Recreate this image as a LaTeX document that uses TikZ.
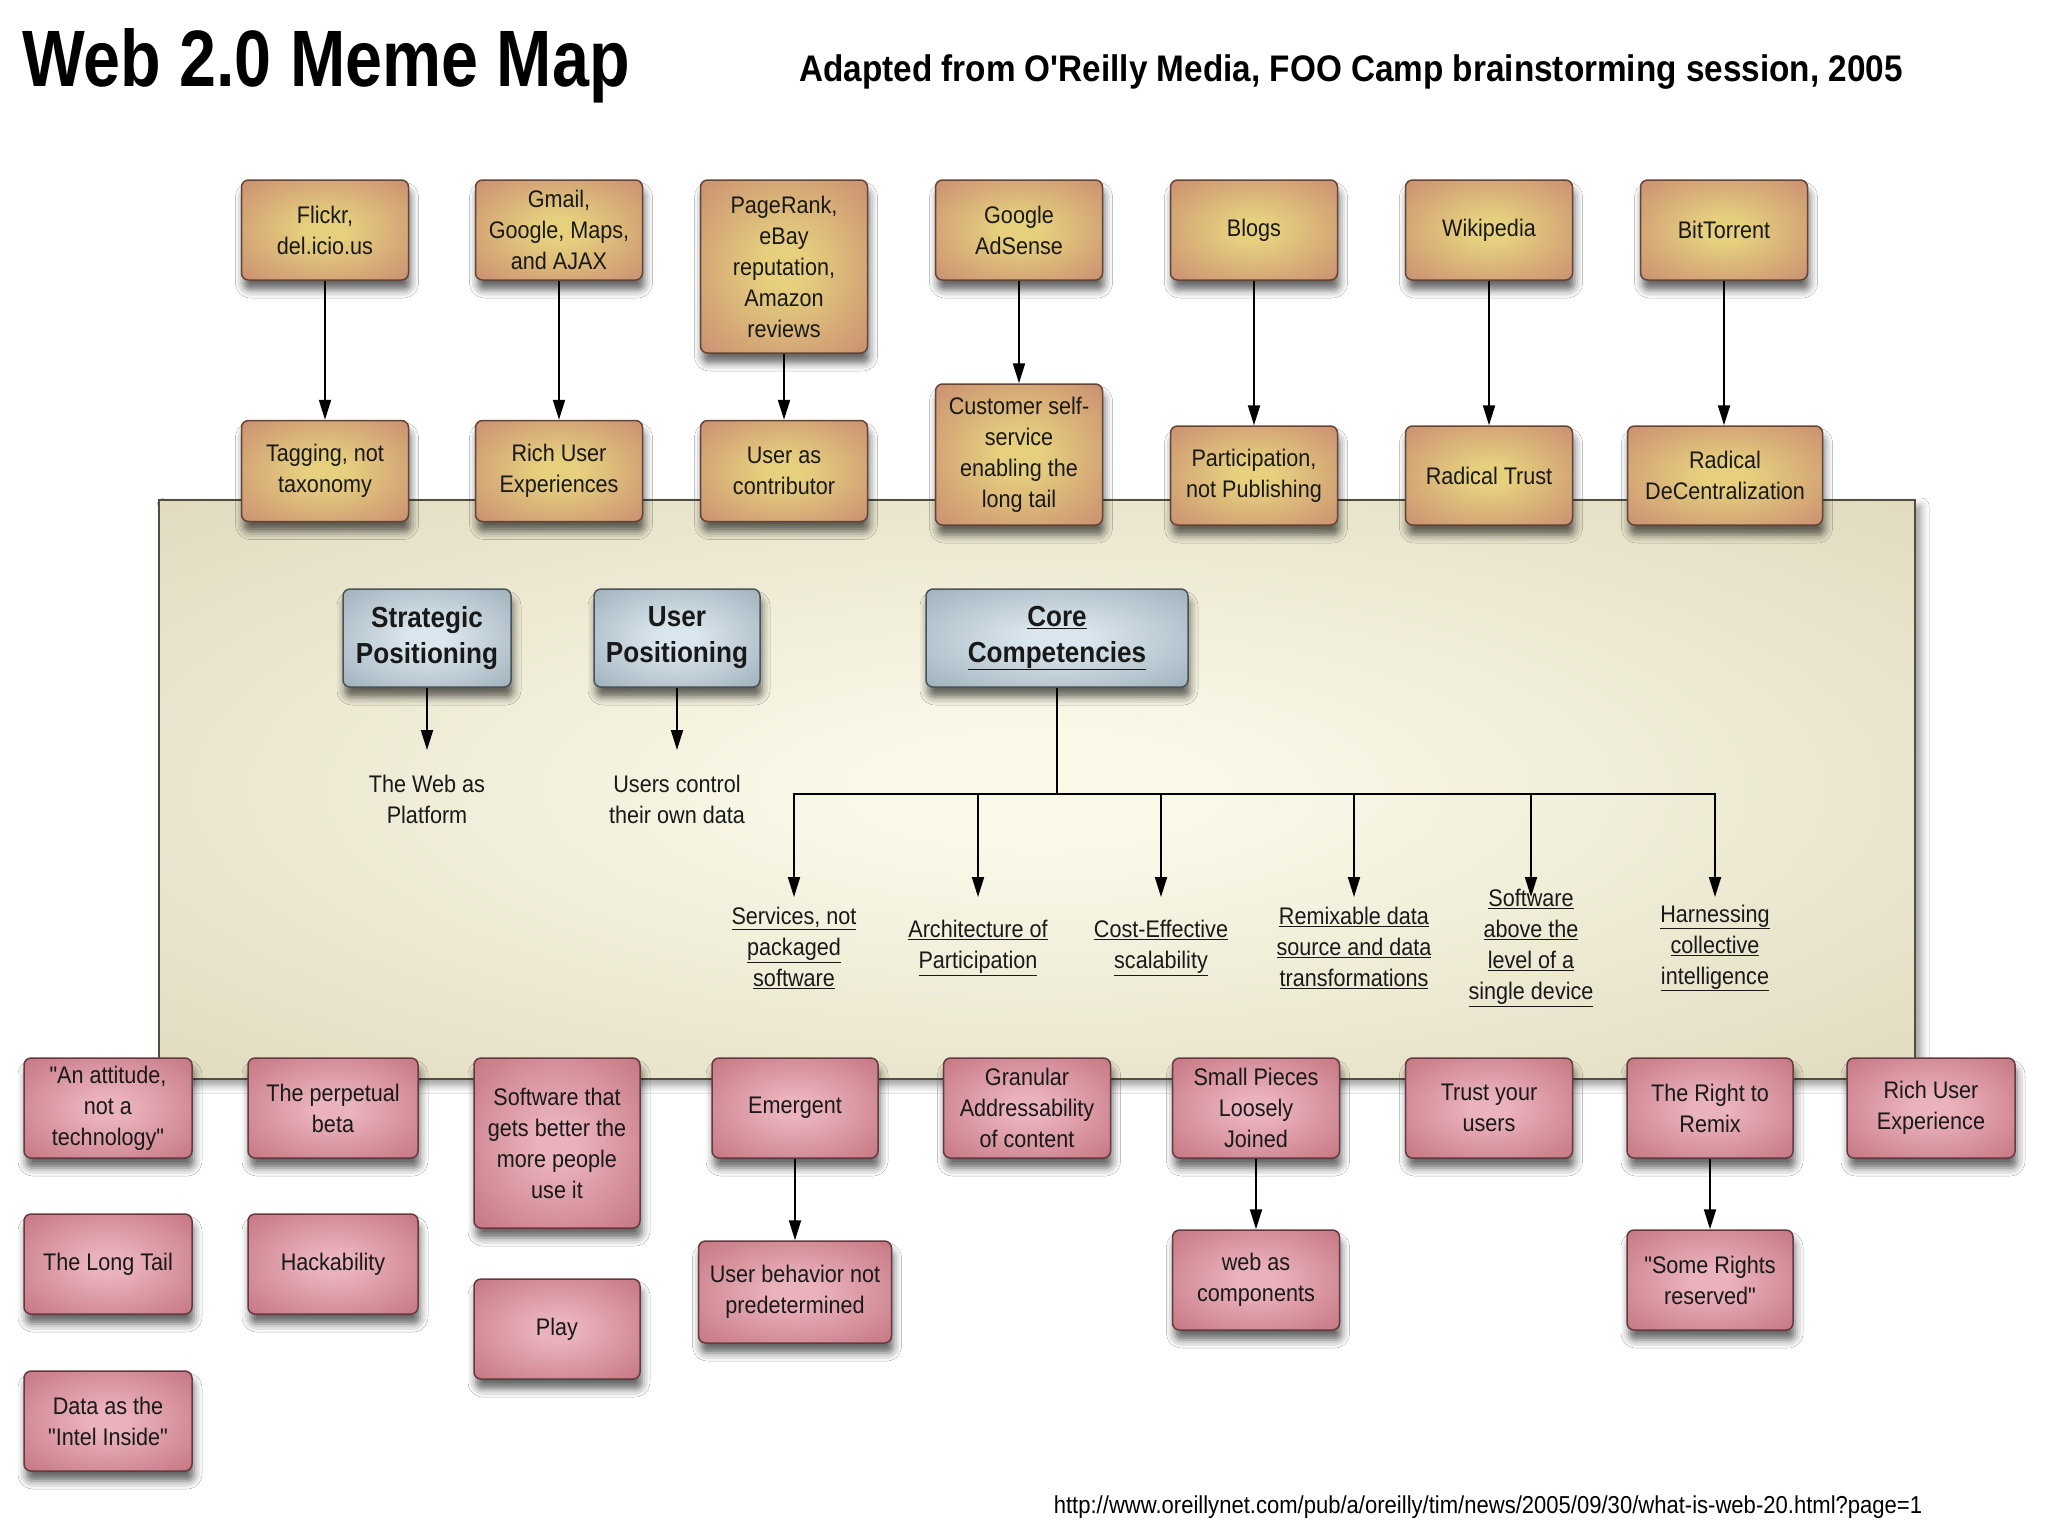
\documentclass[tikz,border=0pt]{standalone}
\usepackage{fontspec}
\setmainfont[FakeStretch=0.9, Ligatures=TeXOff]{Liberation Sans}
\newfontfamily\titlefont[FakeStretch=0.83, Ligatures=TeXOff]{Liberation Sans}
\usetikzlibrary{arrows.meta,shadows.blur,calc}
\newcommand\fsz[2]{\fontsize{#1}{#2}\selectfont}
\definecolor{tanin}{RGB}{230,208,126}
\definecolor{tanout}{RGB}{198,134,112}
\definecolor{tanline}{RGB}{100,68,52}
\definecolor{pinkin}{RGB}{234,178,188}
\definecolor{pinkout}{RGB}{192,110,122}
\definecolor{pinkline}{RGB}{100,58,64}
\definecolor{bluein}{RGB}{218,230,237}
\definecolor{blueout}{RGB}{148,166,178}
\definecolor{blueline}{RGB}{72,82,88}
\definecolor{panelin}{RGB}{250,249,232}
\definecolor{panelout}{RGB}{218,210,180}
\definecolor{panelline}{RGB}{80,80,66}
\pgfdeclareradialshading{tanshade}{\pgfpoint{0bp}{0bp}}{color(0bp)=(tanin); color(6bp)=(tanin); color(40bp)=(tanout); color(50bp)=(tanout)}
\pgfdeclareradialshading{pinkshade}{\pgfpoint{0bp}{0bp}}{color(0bp)=(pinkin); color(6bp)=(pinkin); color(40bp)=(pinkout); color(50bp)=(pinkout)}
\pgfdeclareradialshading{blueshade}{\pgfpoint{0bp}{0bp}}{color(0bp)=(bluein); color(6bp)=(bluein); color(42bp)=(blueout); color(50bp)=(blueout)}
\pgfdeclareradialshading{panelshade}{\pgfpoint{0bp}{0bp}}{color(0bp)=(panelin); color(5bp)=(panelin); color(44bp)=(panelout); color(50bp)=(panelout)}
\tikzset{
  shd/.style={blur shadow={shadow xshift=2pt, shadow yshift=-10pt, shadow blur radius=8pt, shadow opacity=60}},
  basebox/.style={rounded corners=7pt, line width=1.5pt, minimum width=167pt, minimum height=100pt,
    align=center, font=\fsz{24}{31}, text=black!90, inner sep=2pt, shd, shade},
  tanbox/.style={basebox, draw=tanline, shading=tanshade},
  pinkbox/.style={basebox, draw=pinkline, shading=pinkshade},
  bluebox/.style={basebox, draw=blueline, shading=blueshade,
    minimum height=98pt, font=\fsz{29}{36}\bfseries},
  plain/.style={align=center, font=\fsz{24}{31}, text=black!90, inner sep=1pt},
  ulabel/.style={align=center, font=\fsz{24}{31}, text=black!90, inner sep=1pt},
  arr/.style={line width=2pt, -{Triangle[length=20pt,width=12pt]}},
  link/.style={line width=2.5pt},
}
\begin{document}
\begin{tikzpicture}[x=1pt,y=-1pt]
\useasboundingbox (0,0) rectangle (2048,1535);
\fill[white] (0,0) rectangle (2048,1535);

% titles
\node[anchor=west, font=\titlefont\fsz{80}{90}\bfseries, inner sep=0] (title) at (22,66) {Web 2.0 Meme Map};
\node[font=\fsz{37}{40}\bfseries, inner sep=0] (subtitle) at (1351,72) {Adapted from O'Reilly Media, FOO Camp brainstorming session, 2005};
\node[font=\fsz{24.5}{28}, inner sep=0] (url) at (1488,1507) {http://www.oreillynet.com/pub/a/oreilly/tim/news/2005/09/30/what-is-web-20.html?page=1};

% central panel
\node[draw=panelline, line width=2pt, shade, shading=panelshade,
  minimum width=1756pt, minimum height=579pt, inner sep=0,
  blur shadow={shadow xshift=6pt, shadow yshift=-6pt, shadow blur radius=8pt, shadow opacity=40}]
  (panel) at (1037,789.5) {};

% top row
\node[tanbox] (flickr) at (325,230) {Flickr,\\del.icio.us};
\node[tanbox] (gmail) at (559,230) {Gmail,\\Google, Maps,\\and AJAX};
\node[tanbox, minimum height=173pt] (pagerank) at (784,266.5) {PageRank,\\eBay\\reputation,\\Amazon\\reviews};
\node[tanbox] (adsense) at (1019,230) {Google\\AdSense};
\node[tanbox] (blogs) at (1254,230) {Blogs};
\node[tanbox] (wiki) at (1489,230) {Wikipedia};
\node[tanbox] (bittorrent) at (1724,230) {BitTorrent};

% second row
\node[tanbox, minimum height=101pt] (tagging) at (325,471) {Tagging, not\\taxonomy};
\node[tanbox, minimum height=101pt] (richue) at (559,471) {Rich User\\Experiences};
\node[tanbox, minimum height=101pt] (usercontrib) at (784,471) {User as\\contributor};
\node[tanbox, minimum height=141pt] (customer) at (1019,454.5) {Customer self-\\service\\enabling the\\long tail};
\node[tanbox, minimum height=99pt] (particip) at (1254,475.5) {Participation,\\not Publishing};
\node[tanbox, minimum height=99pt] (radtrust) at (1489,475.5) {Radical Trust};
\node[tanbox, minimum height=99pt, minimum width=195pt] (raddecent) at (1725,475.5) {Radical\\DeCentralization};

\draw[arr] (flickr) -- (tagging);
\draw[arr] (gmail) -- (richue);
\draw[arr] (pagerank) -- (usercontrib);
\draw[arr] (adsense) -- (customer);
\draw[arr] (blogs) -- (particip);
\draw[arr] (wiki) -- (radtrust);
\draw[arr] (bittorrent.south) -- (raddecent.north -| bittorrent.south);

% blue boxes
\node[bluebox, minimum width=168pt] (strategic) at (427,638) {Strategic\\Positioning};
\node[bluebox, minimum width=166pt] (userpos) at (677,638) {User\\Positioning};
\node[bluebox, minimum width=262pt] (core) at (1057,638) {\underline{Core}\\\underline{Competencies}};

\coordinate (webtip) at (427,750);
\coordinate (usertip) at (677,750);
\draw[arr] (strategic) -- (webtip);
\draw[arr] (userpos) -- (usertip);
\node[plain] (webplat) at (427,799) {The Web as\\Platform};
\node[plain] (usersctl) at (677,799) {Users control\\their own data};

% core competencies
\coordinate (hub) at (1057,794);
\coordinate (c1) at (794,897);
\coordinate (c2) at (978,897);
\coordinate (c3) at (1161,897);
\coordinate (c4) at (1354,897);
\coordinate (c5) at (1531,897);
\coordinate (c6) at (1715,897);
\draw[link] (core.south) -- (hub);
\draw[link] ($(c1|-hub)+(-1.25,0)$) -- ($(c6|-hub)+(1.25,0)$);
\foreach \c in {c1,c2,c3,c4,c5,c6}{
  \draw[arr] (\c|-hub) -- (\c);
}
\node[ulabel] (services) at (794,948) {\underline{Services, not}\\\underline{packaged}\\\underline{software}};
\node[ulabel] (archpart) at (978,948) {\underline{Architecture of}\\\underline{Participation}};
\node[ulabel] (costeff) at (1161,948) {\underline{Cost-Effective}\\\underline{scalability}};
\node[ulabel] (remixdata) at (1354,948) {\underline{Remixable data}\\\underline{source and data}\\\underline{transformations}};
\node[ulabel] (swabove) at (1531,948) {\underline{Software}\\\underline{above the}\\\underline{level of a}\\\underline{single device}};
\node[ulabel] (harness) at (1715,948) {\underline{Harnessing}\\\underline{collective}\\\underline{intelligence}};

% bottom pink rows
\node[pinkbox, minimum width=168pt] (attitude) at (108,1108) {"An attitude,\\not a\\technology"};
\node[pinkbox, minimum width=170pt] (perpetual) at (333,1108) {The perpetual\\beta};
\node[pinkbox, minimum width=166pt, minimum height=170pt] (swbetter) at (557,1143) {Software that\\gets better the\\more people\\use it};
\node[pinkbox, minimum width=166pt] (emergent) at (795,1108) {Emergent};
\node[pinkbox] (granular) at (1027,1108) {Granular\\Addressability\\of content};
\node[pinkbox] (smallpieces) at (1256,1108) {Small Pieces\\Loosely\\Joined};
\node[pinkbox] (trust) at (1489,1108) {Trust your\\users};
\node[pinkbox, minimum width=166pt] (remix) at (1710,1108) {The Right to\\Remix};
\node[pinkbox, minimum width=168pt] (richux) at (1931,1108) {Rich User\\Experience};

\node[pinkbox, minimum width=168pt] (longtail) at (108,1264) {The Long Tail};
\node[pinkbox, minimum width=170pt] (hack) at (333,1264) {Hackability};
\node[pinkbox, minimum width=166pt] (play) at (557,1329) {Play};
\node[pinkbox, minimum width=193pt, minimum height=102pt] (behavior) at (795,1292) {User behavior not\\predetermined};
\node[pinkbox] (webcomp) at (1256,1280) {web as\\components};
\node[pinkbox, minimum width=166pt] (somerights) at (1710,1280) {"Some Rights\\reserved"};
\node[pinkbox, minimum width=168pt] (intel) at (108,1421) {Data as the\\"Intel Inside"};

\draw[arr] (emergent) -- (behavior);
\draw[arr] (smallpieces) -- (webcomp);
\draw[arr] (remix) -- (somerights);
\end{tikzpicture}
\end{document}
